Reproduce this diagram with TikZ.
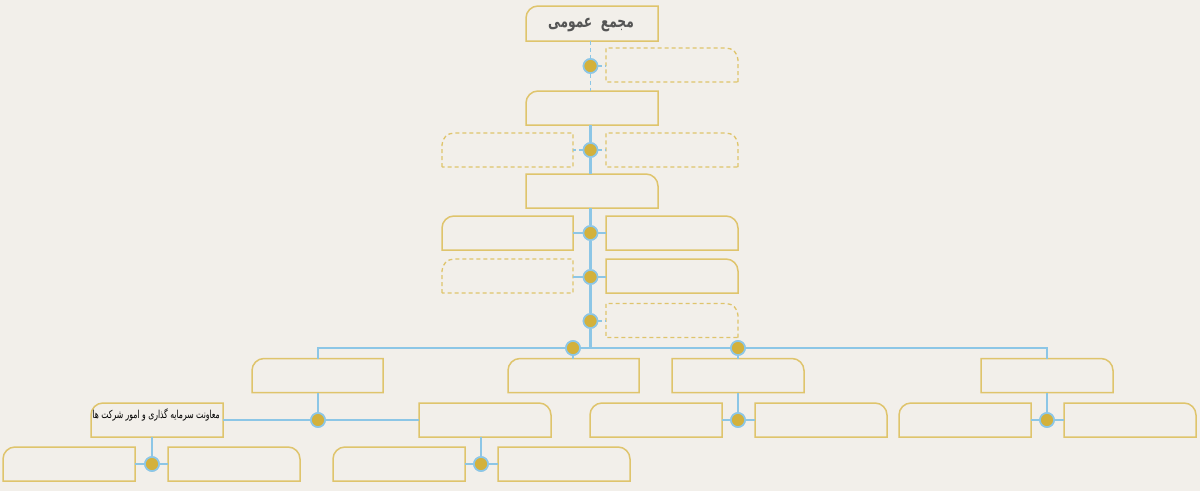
\documentclass[tikz,border=0pt]{standalone}
\usepackage{fontspec}
\newfontfamily\arabicfont[Script=Arabic]{DejaVu Sans}
\TeXXeTstate=1
\definecolor{bgc}{HTML}{F2EFEA}
\definecolor{goldline}{HTML}{DFC46C}
\definecolor{blueline}{HTML}{8CC6E6}
\definecolor{dotfill}{HTML}{D3B13C}
\definecolor{titlegray}{HTML}{555555}
\tikzset{
  slot/.style={draw=none,minimum width=132pt,minimum height=34pt,inner sep=0pt,outer sep=0pt},
  frame/.style={draw=goldline,line width=1.5pt},
  dframe/.style={draw=goldline,line width=1.3pt,dash pattern=on 4pt off 3pt},
  conn/.style={draw=blueline,line width=2.1pt},
  dconn/.style={draw=blueline,line width=1.8pt,dash pattern=on 4pt off 3pt},
  dot/.style={circle,fill=dotfill,draw=blueline,line width=1.6pt,minimum size=14pt,inner sep=0pt}
}
\newcommand{\tlbox}[2]{\path[#2] (#1.south west) -- ([yshift=-12pt]#1.north west) arc[start angle=180,end angle=90,radius=12pt] -- (#1.north east) -- (#1.south east) -- cycle;}
\newcommand{\trbox}[2]{\path[#2] (#1.south east) -- ([yshift=-12pt]#1.north east) arc[start angle=0,end angle=90,radius=12pt] -- (#1.north west) -- (#1.south west) -- cycle;}
\begin{document}
\begin{tikzpicture}[x=1pt,y=-1pt]
\fill[bgc] (0,0) rectangle (1200,491);
\useasboundingbox (0,0) rectangle (1200,491);
% boxes
\node[slot,minimum height=35pt] (top) at (592,23.5) {};
\node[slot] (r1) at (672,65) {};
\node[slot] (b2) at (592,108) {};
\node[slot,minimum width=131pt] (l3) at (507.5,150) {};
\node[slot] (r3) at (672,150) {};
\node[slot] (b3) at (592,191) {};
\node[slot,minimum width=131pt] (l4) at (507.5,233) {};
\node[slot] (r4) at (672,233) {};
\node[slot,minimum width=131pt] (l5) at (507.5,276) {};
\node[slot] (r5) at (672,276) {};
\node[slot] (r6) at (672,320.5) {};
\node[slot,minimum width=131pt] (A) at (317.5,375.5) {};
\node[slot,minimum width=131pt] (B) at (573.5,375.5) {};
\node[slot] (C) at (738,375.5) {};
\node[slot] (D) at (1047,375.5) {};
\node[slot] (T) at (157,420) {};
\node[slot] (E) at (485,420) {};
\node[slot] (F) at (656,420) {};
\node[slot] (G) at (821,420) {};
\node[slot] (H) at (965,420) {};
\node[slot] (I) at (1130,420) {};
\node[slot] (J) at (69,464) {};
\node[slot] (K) at (234,464) {};
\node[slot] (L) at (399,464) {};
\node[slot] (M) at (564,464) {};
% outlines
\tlbox{top}{frame}
\trbox{r1}{dframe}
\tlbox{b2}{frame}
\tlbox{l3}{dframe}
\trbox{r3}{dframe}
\trbox{b3}{frame}
\tlbox{l4}{frame}
\trbox{r4}{frame}
\tlbox{l5}{dframe}
\trbox{r5}{frame}
\trbox{r6}{dframe}
\tlbox{A}{frame}
\tlbox{B}{frame}
\trbox{C}{frame}
\trbox{D}{frame}
\tlbox{T}{frame}
\trbox{E}{frame}
\tlbox{F}{frame}
\trbox{G}{frame}
\tlbox{H}{frame}
\trbox{I}{frame}
\tlbox{J}{frame}
\trbox{K}{frame}
\tlbox{L}{frame}
\trbox{M}{frame}
% texts
\node[text=titlegray,font=\arabicfont\bfseries\fontsize{17pt}{20pt}\selectfont] (toptext) at (591,25) {\scalebox{0.72}[1.05]{\beginR مجمع\hspace{0.7em}عمومی\endR}};
\node[anchor=east,text=black,font=\arabicfont\fontsize{11pt}{13pt}\selectfont,inner sep=0pt] (ttext) at (220,415) {\scalebox{0.7}[1]{\beginR معاونت سرمایه گذاری و امور شرکت ها\endR}};
% dots
\node[dot] (d1) at (590.5,66) {};
\node[dot] (d2) at (590.5,150) {};
\node[dot] (d3) at (590.5,233) {};
\node[dot] (d4) at (590.5,277) {};
\node[dot] (d5) at (590.5,321) {};
\node[dot] (k1) at (573,348) {};
\node[dot] (k2) at (738,348) {};
\node[dot] (e1) at (318,420) {};
\node[dot] (e2) at (738,420) {};
\node[dot] (e3) at (1047,420) {};
\node[dot] (f1) at (152,464) {};
\node[dot] (f2) at (481,464) {};
\coordinate (busM) at (590.5,348);
\coordinate (busL) at (318,348);
\coordinate (busR) at (1047,348);
% connectors
\path[dconn] (top.south -| d1) -- (d1);
\path[dconn] (d1) -- (b2.north -| d1);
\path[dconn] (d1) -- (r1.west |- d1);
\path[conn] (b2.south -| d2) -- (d2);
\path[conn] (d2) -- (b3.north -| d2);
\path[dconn] (d2) -- (l3.east |- d2);
\path[dconn] (d2) -- (r3.west |- d2);
\path[conn] (b3.south -| d3) -- (d3);
\path[conn] (d3) -- (d4);
\path[conn] (d4) -- (d5);
\path[conn] (d5) -- (busM);
\path[conn] (d3) -- (l4.east |- d3);
\path[conn] (d3) -- (r4.west |- d3);
\path[conn] (d4) -- (l5.east |- d4);
\path[conn] (d4) -- (r5.west |- d4);
\path[dconn] (d5) -- (r6.west |- d5);
\path[conn] (A.north -| busL) -- (busL) -- (busR) -- (D.north -| busR);
\path[conn] (k1) -- (B.north -| k1);
\path[conn] (k2) -- (C.north -| k2);
\path[conn] (A.south -| e1) -- (e1);
\path[conn] (T.east |- e1) -- (e1);
\path[conn] (e1) -- (E.west |- e1);
\path[conn] (C.south -| e2) -- (e2);
\path[conn] (F.east |- e2) -- (e2);
\path[conn] (e2) -- (G.west |- e2);
\path[conn] (D.south -| e3) -- (e3);
\path[conn] (H.east |- e3) -- (e3);
\path[conn] (e3) -- (I.west |- e3);
\path[conn] (T.south -| f1) -- (f1);
\path[conn] (J.east |- f1) -- (f1);
\path[conn] (f1) -- (K.west |- f1);
\path[conn] (E.south -| f2) -- (f2);
\path[conn] (L.east |- f2) -- (f2);
\path[conn] (f2) -- (M.west |- f2);
% redraw dots on top
\foreach \d in {d1,d2,d3,d4,d5,k1,k2,e1,e2,e3,f1,f2} {\node[dot] at (\d) {};}
\end{tikzpicture}
\end{document}
